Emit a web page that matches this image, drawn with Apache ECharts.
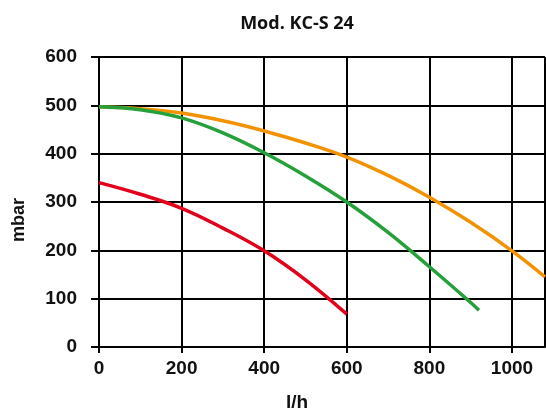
<!DOCTYPE html>
<html>
<head>
<meta charset="utf-8">
<script src="https://cdn.jsdelivr.net/npm/echarts@6/dist/echarts.min.js"></script>
<style>html,body{margin:0;padding:0;background:#fff}#c{width:546px;height:412px}</style>
</head>
<body>
<div id="c"></div>
<script>
var titleText = 'Mod. KC-S 24';
var xName = 'l/h';
var yName = 'mbar';
var orangeX = [0, 100, 200, 300, 400, 500, 600, 700, 800, 900, 1000, 1080];
var orangeY = [497, 493, 484, 468, 447, 422, 393, 355, 310, 258, 199, 145];
var greenX = [0, 100, 200, 300, 400, 500, 600, 700, 800, 900, 920];
var greenY = [497, 491, 474, 443, 402, 354, 300, 237, 166, 92, 76];
var redX = [0, 100, 200, 300, 400, 500, 600];
var redY = [340, 316, 287, 246, 199, 139, 68];

function pairs(xs, ys) { return xs.map(function (x, i) { return [x, ys[i]]; }); }

var chart = echarts.init(document.getElementById('c'), null, {renderer: 'canvas'});
var labelFont = {fontFamily: 'Liberation Sans', fontWeight: 'bold', fontSize: 19, color: '#111'};
chart.setOption({
  animation: false,
  backgroundColor: '#fff',
  title: {
    text: titleText, left: 292, top: 10, textAlign: 'center',
    textStyle: {fontFamily: 'Open Sans', fontWeight: 'bold', fontSize: 18, color: '#111'}
  },
  grid: {left: 99, top: 57, width: 446, height: 290, containLabel: false},
  xAxis: {
    type: 'value', min: 0, max: 1080, interval: 200,
    axisLine: {show: true, lineStyle: {color: '#000', width: 2}},
    axisTick: {show: true, length: 6, lineStyle: {color: '#000', width: 2}},
    axisLabel: Object.assign({margin: 12, showMaxLabel: false, formatter: function (v) { return String(v); }}, labelFont),
    splitLine: {show: true, lineStyle: {color: '#000', width: 2}}
  },
  yAxis: {
    type: 'value', min: 0, max: 600, interval: 100,
    axisLine: {show: true, lineStyle: {color: '#000', width: 2}},
    axisTick: {show: true, length: 8, lineStyle: {color: '#000', width: 2}},
    axisLabel: Object.assign({margin: 22, formatter: function (v) { return String(v); }}, labelFont),
    splitLine: {show: true, lineStyle: {color: '#000', width: 2}}
  },
  graphic: [
    {type: 'text', left: 286, top: 393, style: {text: xName, font: 'bold 19px "Liberation Sans"', fill: '#111'}},
    {type: 'text', x: 10, y: 242, rotation: Math.PI / 2, style: {text: yName, font: 'bold 18px "Liberation Sans"', fill: '#111'}}
  ],
  series: [
    {type: 'line', data: pairs(orangeX, orangeY), smooth: 0.4, showSymbol: false, lineStyle: {color: '#F39200', width: 3.5}, z: 3},
    {type: 'line', data: pairs(greenX, greenY), smooth: 0.4, showSymbol: false, lineStyle: {color: '#26A03A', width: 3.5}, z: 4},
    {type: 'line', data: pairs(redX, redY), smooth: 0.4, showSymbol: false, lineStyle: {color: '#E3001B', width: 3.5}, z: 5}
  ]
});
</script>
</body>
</html>
